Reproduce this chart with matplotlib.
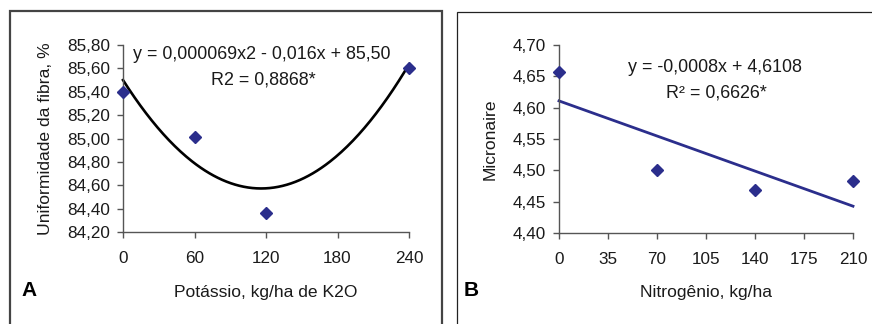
import matplotlib.pyplot as plt
import numpy as np
from matplotlib.patches import Rectangle
from matplotlib.ticker import FuncFormatter

plt.rcParams['font.family'] = ['Liberation Sans', 'DejaVu Sans']

# Data - panel A (potassium)
potassio = [0, 60, 120, 240]
uniformidade = [85.40, 85.01, 84.36, 85.60]
fit_a = [0.000069, -0.016, 85.50]  # quadratic trend coefficients
xticks_a = [0, 60, 120, 180, 240]
yticks_a = [84.20, 84.40, 84.60, 84.80, 85.00, 85.20, 85.40, 85.60, 85.80]

# Data - panel B (nitrogen)
nitrogenio = [0, 70, 140, 210]
micronaire = [4.657, 4.500, 4.468, 4.483]
fit_b = [-0.0008, 4.6108]  # linear trend coefficients
xticks_b = [0, 35, 70, 105, 140, 175, 210]
yticks_b = [4.40, 4.45, 4.50, 4.55, 4.60, 4.65, 4.70]

navy = '#2b2e8c'
txt = '#1a1a1a'

fig = plt.figure(figsize=(8.72, 3.24), dpi=100)
fig.set_facecolor('white')

# Panel frames
fig.patches.append(Rectangle((10 / 872, -0.1), 432 / 872, 1.1 - 11 / 324,
                             transform=fig.transFigure, fill=False,
                             edgecolor='#444444', linewidth=1.6))
fig.patches.append(Rectangle((457 / 872, -0.1), 0.6, 1.1 - 12 / 324,
                             transform=fig.transFigure, fill=False,
                             edgecolor='#222222', linewidth=0.9))

ax_a = fig.add_axes([123 / 872, 1 - 232 / 324, 286 / 872, 187 / 324])
ax_b = fig.add_axes([559 / 872, 1 - 233 / 324, 294 / 872, 188 / 324])


def comma(v, pos=None):
    return f'{v:.2f}'.replace('.', ',')


for ax in (ax_a, ax_b):
    ax.set_facecolor('none')
    for side in ('top', 'right'):
        ax.spines[side].set_visible(False)
    for side in ('left', 'bottom'):
        ax.spines[side].set_color('#555555')
        ax.spines[side].set_linewidth(1.0)
    ax.tick_params(direction='out', length=4, width=1.0, color='#555555',
                   labelsize=12.3, labelcolor=txt)
    ax.tick_params(axis='y', pad=5.5)
    ax.tick_params(axis='x', pad=10)
    ax.yaxis.set_major_formatter(FuncFormatter(comma))

# Panel A
xs = np.linspace(0, 240, 200)
ax_a.plot(xs, np.polyval(fit_a, xs), color='black', linewidth=1.9, clip_on=False)
ax_a.plot(potassio, uniformidade, 'D', color=navy, markersize=6.5, clip_on=False, zorder=3)
ax_a.set_xlim(0, 240)
ax_a.set_ylim(84.20, 85.80)
ax_a.set_xticks(xticks_a)
ax_a.set_yticks(yticks_a)
ax_a.set_ylabel('Uniformidade da fibra, %', fontsize=12.6, color=txt, labelpad=10)
ax_a.set_xlabel('Potássio, kg/ha de K2O', fontsize=12.6, color=txt, labelpad=13)
ax_a.text(0.486, 0.947, 'y = 0,000069x2 - 0,016x + 85,50', transform=ax_a.transAxes,
          ha='center', va='center', fontsize=12.9, color=txt)
ax_a.text(0.49, 0.813, 'R2 = 0,8868*', transform=ax_a.transAxes,
          ha='center', va='center', fontsize=12.9, color=txt)
fig.text(29 / 872, 1 - 290 / 324, 'A', fontsize=15, fontweight='bold',
         ha='center', va='center')

# Panel B
xb = np.array([0, 210])
ax_b.plot(xb, np.polyval(fit_b, xb), color=navy, linewidth=2.0, clip_on=False)
ax_b.plot(nitrogenio, micronaire, 'D', color=navy, markersize=6.5, clip_on=False, zorder=3)
ax_b.set_xlim(0, 210)
ax_b.set_ylim(4.40, 4.70)
ax_b.set_xticks(xticks_b)
ax_b.set_yticks(yticks_b)
ax_b.set_ylabel('Micronaire', fontsize=12.6, color=txt, labelpad=11)
ax_b.set_xlabel('Nitrogênio, kg/ha', fontsize=12.6, color=txt, labelpad=13)
ax_b.text(0.531, 0.878, 'y = -0,0008x + 4,6108', transform=ax_b.transAxes,
          ha='center', va='center', fontsize=12.9, color=txt)
ax_b.text(0.535, 0.745, 'R² = 0,6626*', transform=ax_b.transAxes,
          ha='center', va='center', fontsize=12.9, color=txt)
fig.text(471 / 872, 1 - 290 / 324, 'B', fontsize=15, fontweight='bold',
         ha='center', va='center')

fig.savefig('out.png', dpi=100, facecolor=fig.get_facecolor())
